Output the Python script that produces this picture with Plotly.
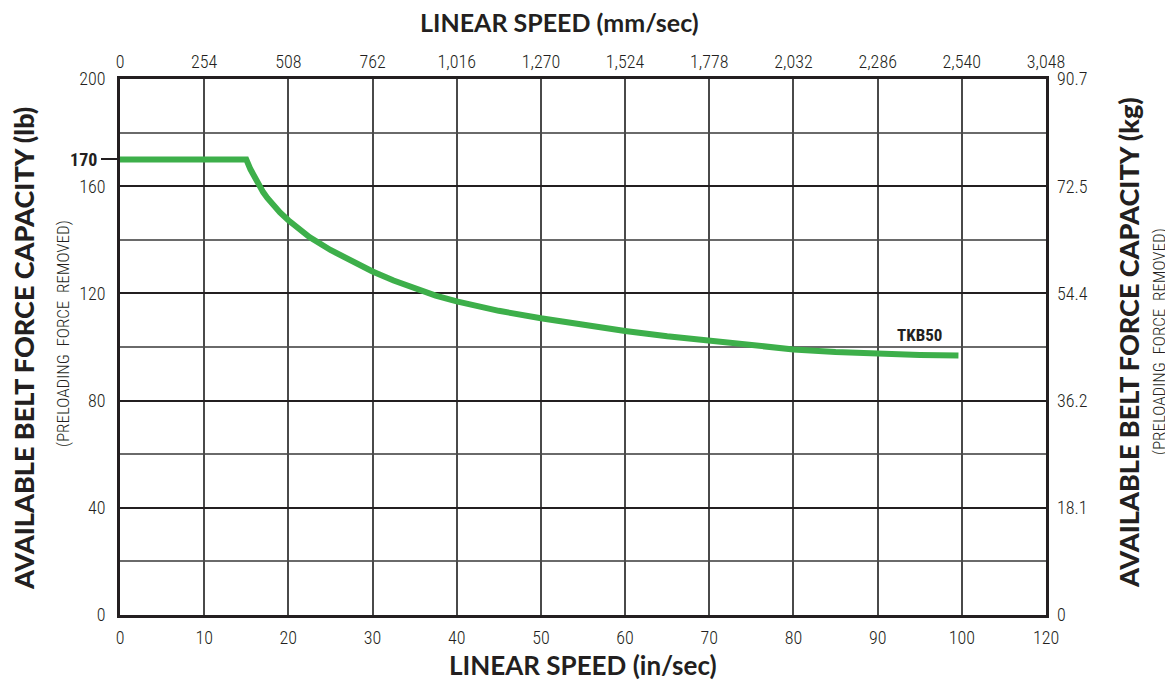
import plotly.graph_objects as go

# ---- data ----
speed_in = [0, 15, 15.5, 16, 16.5, 17, 17.5, 18, 19, 20, 21, 22.5, 25, 27.5, 30, 32.5, 35, 37.5, 40,
            45, 50, 55, 60, 65, 70, 75, 80, 85, 90, 95, 99.6]
force_lb = [170, 170, 166.3, 163.1, 160.3, 157.8, 155.6, 153.5, 150.2, 147.3, 144.6, 141, 136.2, 131.9, 128.2,
            124.8, 121.8, 119.2, 117, 113.5, 110.7, 108.2, 106, 104, 102.2, 100.5, 99.1, 98.1, 97.4, 97.0, 96.8]
series_name = "TKB50"

x_tick_vals = [0, 10, 20, 30, 40, 50, 60, 70, 80, 90, 100, 110]
x_tick_labels = ["0", "10", "20", "30", "40", "50", "60", "70", "80", "90", "100", "120"]
mm_tick_labels = ["0", "254", "508", "762", "1,016", "1,270", "1,524", "1,778", "2,032", "2,286", "2,540", "3,048"]
lb_tick_vals = [0, 40, 80, 120, 160, 200]
kg_tick_labels = ["0", "18.1", "36.2", "54.4", "72.5", "90.7"]
rated_force = [170]

INK = "#231f20"
GREEN = "#3daf4a"
COND = "Roboto Condensed, Liberation Sans Narrow, Roboto, sans-serif"
TICK_FONT = dict(family=COND, size=18, color=INK, weight=300)
TITLE_FONT = dict(family="Lato, Open Sans, sans-serif", size=25, color=INK, weight=700)
YTITLE_FONT = dict(family="Lato, Open Sans, sans-serif", size=27, color=INK, weight=900)
SUB_FONT = dict(family=COND, size=17, color=INK, weight=300)

fig = go.Figure()
fig.add_trace(go.Scatter(x=speed_in, y=force_lb, mode="lines",
                         line=dict(color=GREEN, width=6), name=series_name,
                         hoverinfo="x+y"))
# helper traces so secondary axes are drawn
fig.add_trace(go.Scatter(x=[0], y=[0], xaxis="x2", yaxis="y2", mode="markers",
                         marker=dict(opacity=0), hoverinfo="skip", showlegend=False))
fig.add_trace(go.Scatter(x=[0], y=[0], xaxis="x", yaxis="y3", mode="markers",
                         marker=dict(opacity=0), hoverinfo="skip", showlegend=False))

# page body has an 8px default margin: size the figure to fit the 1173x687 window
fig.update_layout(
    width=1165, height=679,
    margin=dict(l=112, r=127, t=71, b=72),
    paper_bgcolor="white", plot_bgcolor="white",
    showlegend=False,
    xaxis=dict(range=[0, 110], tickvals=x_tick_vals, ticktext=x_tick_labels,
               showgrid=True, gridcolor="#4a4a4a", gridwidth=1.5,
               showline=True, linecolor=INK, linewidth=3, mirror=True,
               ticks="", tickfont=TICK_FONT, zeroline=False, ticklabelstandoff=4),
    xaxis2=dict(range=[0, 110], overlaying="x", side="top", anchor="y",
                tickvals=x_tick_vals, ticktext=mm_tick_labels,
                showgrid=False, showline=False, ticks="", tickfont=TICK_FONT,
                zeroline=False, ticklabelstandoff=6),
    yaxis=dict(range=[0, 200], tickvals=lb_tick_vals,
               showgrid=True, gridcolor=INK, gridwidth=2,
               minor=dict(dtick=20, tick0=0, showgrid=True, gridcolor="#6a6a6a", gridwidth=1.5),
               showline=True, linecolor=INK, linewidth=3, mirror=True,
               ticks="", tickfont=TICK_FONT, zeroline=False, ticklabelstandoff=8),
    yaxis2=dict(range=[0, 200], overlaying="y", side="right", anchor="x2",
                tickvals=lb_tick_vals, ticktext=kg_tick_labels,
                showgrid=False, showline=False, ticks="", tickfont=TICK_FONT,
                zeroline=False, ticklabelstandoff=10),
    yaxis3=dict(range=[0, 200], overlaying="y", side="left", anchor="x",
                tickvals=rated_force, ticktext=["<b>%d</b>" % v for v in rated_force],
                ticks="outside", ticklen=18, tickwidth=2, tickcolor=INK,
                showgrid=False, showline=False, zeroline=False,
                tickfont=dict(TICK_FONT, size=18, weight=700)),
)

ann = []
ann.append(dict(text="LINEAR SPEED (mm/sec)", xref="paper", yref="paper",
                x=0.475, y=1.0, yshift=57, xanchor="center", yanchor="middle",
                showarrow=False, font=TITLE_FONT))
ann.append(dict(text="LINEAR SPEED (in/sec)", xref="paper", yref="paper",
                x=0.5, y=0.0, yshift=-50, xanchor="center", yanchor="middle",
                showarrow=False, font=dict(TITLE_FONT, size=26)))
ann.append(dict(text="AVAILABLE BELT FORCE CAPACITY (lb)", xref="paper", yref="paper",
                x=0.0, y=0.5, xshift=-97, yshift=-2, xanchor="center", yanchor="middle", textangle=-90,
                showarrow=False, font=YTITLE_FONT))
ann.append(dict(text="(PRELOADING  FORCE  REMOVED)", xref="paper", yref="paper",
                x=0.0, y=0.5, xshift=-57, yshift=13, xanchor="center", yanchor="middle", textangle=-90,
                showarrow=False, font=SUB_FONT))
ann.append(dict(text="AVAILABLE BELT FORCE CAPACITY (kg)", xref="paper", yref="paper",
                x=1.0, y=0.5, xshift=82, yshift=4, xanchor="center", yanchor="middle", textangle=-90,
                showarrow=False, font=YTITLE_FONT))
ann.append(dict(text="(PRELOADING  FORCE  REMOVED)", xref="paper", yref="paper",
                x=1.0, y=0.5, xshift=113, yshift=5, xanchor="center", yanchor="middle", textangle=-90,
                showarrow=False, font=SUB_FONT))
ann.append(dict(text="<b>%s</b>" % series_name, x=speed_in[-1], y=force_lb[-1],
                xanchor="right", yanchor="middle", xshift=-14, yshift=21,
                showarrow=False, font=dict(TICK_FONT, size=17, weight=700)))
fig.update_layout(annotations=ann)

fig.write_html("out.html")
